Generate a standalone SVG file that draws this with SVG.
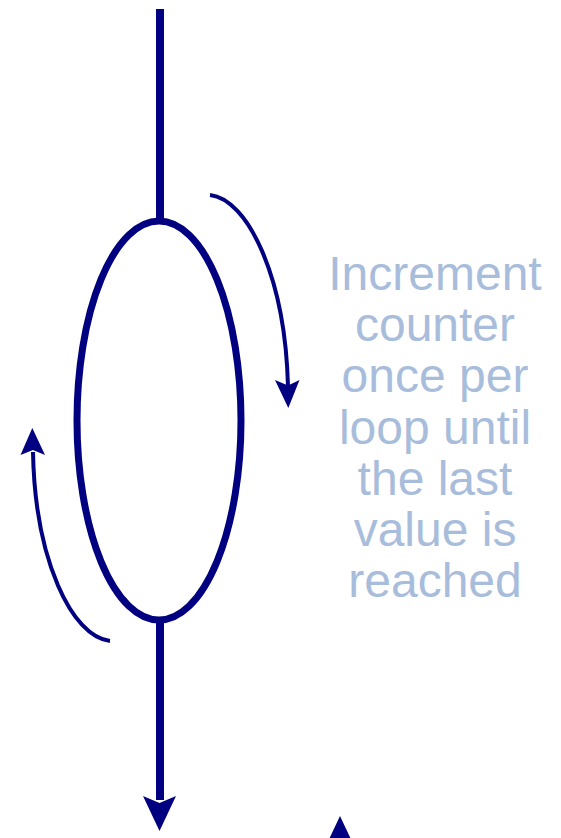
<svg xmlns="http://www.w3.org/2000/svg" width="561" height="838" viewBox="0 0 561 838">
<style>
.main{stroke:#000080;fill:none;stroke-width:8}
.ring{stroke:#000080;fill:none;stroke-width:7}
.turn{stroke:#000080;fill:none;stroke-width:4}
.head{fill:#000080;stroke:none}
.lbl{font-family:"Liberation Sans",Arial,sans-serif;font-size:48px;fill:#a8bddb;text-anchor:middle}
</style>
<rect width="561" height="838" fill="#ffffff"/>
<g id="loop">
<ellipse class="ring" cx="159" cy="420.5" rx="82" ry="199.5"/>
</g>
<g id="label">
<text class="lbl" x="435" y="290">Increment</text>
<text class="lbl" x="435" y="341.2">counter</text>
<text class="lbl" x="435" y="392.4">once per</text>
<text class="lbl" x="435" y="443.6">loop until</text>
<text class="lbl" x="435" y="494.8">the last</text>
<text class="lbl" x="435" y="546">value is</text>
<text class="lbl" x="435" y="597.2">reached</text>
</g>
<g id="connectors">
<line class="main" x1="160" y1="9" x2="160" y2="221"/>
<line class="main" x1="160" y1="620" x2="160" y2="800"/>
<polygon class="head" points="159.5,831 143,796 159.5,803 176,796"/>
<path class="turn" d="M210,195 C247,199 285,275 288,386"/>
<polygon class="head" points="288.3,408 275,380 288,385.5 299.5,380"/>
<path class="turn" d="M110,641 C72,637 35,560 33,452"/>
<polygon class="head" points="32.3,428 20.5,455 33,450 45,455"/>
<polygon class="head" points="340,816 357,852 340,845 323,852"/>
</g>
</svg>
